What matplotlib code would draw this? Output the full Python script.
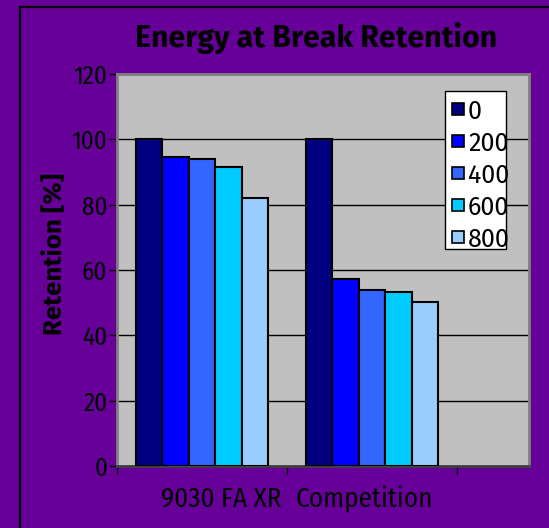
import matplotlib
matplotlib.use('Agg')
import matplotlib.pyplot as plt
from matplotlib.patches import Rectangle
from matplotlib.lines import Line2D

# ---- data ----
categories = ["9030 FA XR", "Competition"]
series_labels = ["0", "200", "400", "600", "800"]
values_9030 = [100, 94.6, 94.0, 91.4, 82.1]
values_comp = [100, 57.3, 53.9, 53.4, 50.2]
series_colors = ["#000080", "#0000FF", "#3366FF", "#00CCFF", "#99CCFF"]
yticks = [0, 20, 40, 60, 80, 100, 120]

W, H = 549, 528
BG = "#660099"
FONT = "Fira Sans"
FONT_C = "Fira Sans Condensed"

fig = plt.figure(figsize=(W / 100, H / 100), dpi=100, facecolor=BG)

def fx(px):
    return px / W

def fy(py):
    return 1 - py / H

# outer chart-area border
fig.add_artist(Line2D([fx(20), fx(20)], [fy(7), fy(600)], color="black", lw=1.6,
                      transform=fig.transFigure))
fig.add_artist(Line2D([fx(20), fx(700)], [fy(7), fy(7)], color="black", lw=1.6,
                      transform=fig.transFigure))

left, right, top, bottom = 117, 529, 74, 466
ax = fig.add_axes([fx(left), fy(bottom), fx(right) - fx(left), fy(top) - fy(bottom)])
ax.set_facecolor("#C0C0C0")

xmax = (right - left) / 170.0
ax.set_xlim(0, xmax)
ax.set_ylim(0, 120)

bw = 0.156
data = [values_9030, values_comp]
for i, lab in enumerate(series_labels):
    xs = [g + 0.5 + (i - 2) * bw for g in range(len(categories))]
    hs = [data[g][i] for g in range(len(categories))]
    ax.bar(xs, hs, width=bw, color=series_colors[i], edgecolor="black",
           linewidth=1.5, zorder=3, label=lab)

ax.set_yticks(yticks)
ax.set_yticklabels([str(t) for t in yticks], fontfamily=FONT_C, fontsize=18)
ax.grid(axis="y", color="black", lw=1.0, zorder=1)
ax.set_axisbelow(True)
ax.set_xticks([0, 1, 2])
ax.set_xticklabels([])
ax.tick_params(axis="y", direction="out", length=6, width=1, color="black", pad=1,
               labelcolor="black")
ax.tick_params(axis="x", direction="out", length=6, width=1, color="black")

for s in ["left", "right", "top"]:
    ax.spines[s].set_color("#808080")
    ax.spines[s].set_linewidth(2)
ax.spines["bottom"].set_color("#404040")
ax.spines["bottom"].set_linewidth(2)

# category labels
cat_px = [221, 364]
for lab, px in zip(categories, cat_px):
    fig.text(fx(px), fy(499), lab, ha="center", va="center", fontfamily=FONT_C,
             fontsize=19.5, color="black")

# title and y-label
fig.text(fx(316), fy(38), "Energy at Break Retention", ha="center", va="center",
         fontfamily=FONT, fontweight="bold", fontsize=21.8, color="black")
fig.text(fx(55), fy(254), "Retention [%]", ha="center", va="center", rotation=90,
         fontfamily=FONT, fontweight="bold", fontsize=18.6, color="black")

# legend (manual box)
lx0, lx1, ly0, ly1 = 445, 506, 91, 249
fig.add_artist(Rectangle((fx(lx0), fy(ly1)), fx(lx1) - fx(lx0), fy(ly0) - fy(ly1),
                         transform=fig.transFigure, facecolor="white",
                         edgecolor="black", lw=1.0, zorder=5))
for i, (lab, col) in enumerate(zip(series_labels, series_colors)):
    sy = 102.7 + 32 * i
    fig.add_artist(Rectangle((fx(452), fy(sy + 12)), fx(12), 12 / H,
                             transform=fig.transFigure, facecolor=col,
                             edgecolor="black", lw=1.2, zorder=6))
    fig.text(fx(468), fy(sy + 9.5), lab, ha="left", va="center", fontfamily=FONT,
             fontsize=18, color="black", zorder=7)

fig.savefig("out.png", dpi=100, facecolor=BG)
